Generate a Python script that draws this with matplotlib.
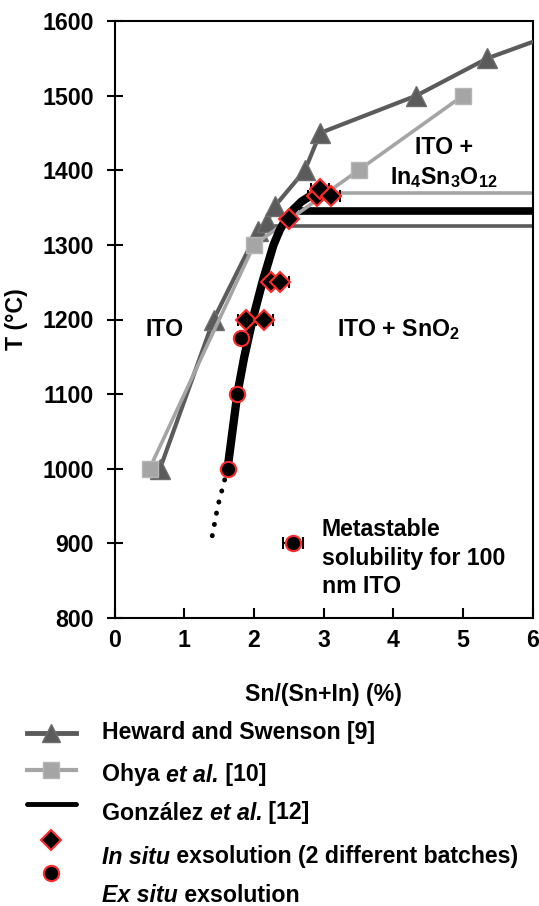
import matplotlib
matplotlib.use("Agg")
import matplotlib.pyplot as plt
from matplotlib.lines import Line2D

plt.rcParams['font.family'] = ['Liberation Sans', 'DejaVu Sans']
plt.rcParams['font.weight'] = 'bold'
plt.rcParams['mathtext.fontset'] = 'custom'
plt.rcParams['mathtext.rm'] = 'Liberation Sans:bold'
plt.rcParams['mathtext.it'] = 'Liberation Sans:bold:italic'
plt.rcParams['mathtext.bf'] = 'Liberation Sans:bold'

# ---- data ----
heward_x = [0.65, 1.42, 2.05, 2.18, 2.30, 2.73, 2.95, 4.33, 5.35, 6.0]
heward_T = [1000, 1200, 1318, 1330, 1352, 1400, 1450, 1500, 1550, 1572]
heward_eut_x = [2.08, 6.0]
heward_eut_T = [1325, 1325]

ohya_x = [0.5, 2.0, 3.5, 5.0]
ohya_T = [1000, 1300, 1400, 1500]
ohya_eut_x = [3.05, 6.0]
ohya_eut_T = [1370, 1370]

gonz_x = [2.65, 6.0]
gonz_T = [1345, 1345]

fit_x = [1.62, 1.69, 1.76, 1.86, 1.98, 2.12, 2.28, 2.37, 2.46, 2.56, 2.68, 2.85]
fit_T = [1000, 1050, 1100, 1150, 1200, 1250, 1300, 1320, 1335, 1347, 1358, 1368]
extrap_x = [1.62, 1.55, 1.48, 1.43, 1.38]
extrap_T = [1000, 975, 950, 925, 900]

insitu_x = [1.88, 2.15, 2.25, 2.37, 2.50, 2.90, 2.95, 3.10]
insitu_T = [1200, 1200, 1250, 1250, 1335, 1365, 1375, 1365]
insitu_err = [0.11, 0.12, 0.13, 0.13, 0.0, 0.13, 0.13, 0.13]

exsitu_x = [1.63, 1.75, 1.82]
exsitu_T = [1000, 1100, 1175]
exsitu_err = [0.05, 0.06, 0.0]

meta_x = [2.56]
meta_T = [900]
meta_err = [0.14]

xticks = [0, 1, 2, 3, 4, 5, 6]
yticks = [800, 900, 1000, 1100, 1200, 1300, 1400, 1500, 1600]

legend_labels = [
    [('Heward and Swenson [9]', 'normal')],
    [('Ohya ', 'normal'), ('et al.', 'italic'), (' [10]', 'normal')],
    [('González ', 'normal'), ('et al.', 'italic'), (' [12]', 'normal')],
    [('In situ', 'italic'), (' exsolution (2 different batches)', 'normal')],
    [('Ex situ', 'italic'), (' exsolution', 'normal')],
]

# ---- figure ----
W, H = 539, 906
fig = plt.figure(figsize=(W / 100, H / 100), dpi=100)
ax = fig.add_axes([114.7 / W, 1 - 618 / H, (532.7 - 114.7) / W, (618 - 21) / H])

dark = '#5b5b5b'
light = '#a5a5a5'
FS = 16.7

ax.plot(heward_x, heward_T, color=dark, lw=3, marker='^', ms=14,
        markevery=list(range(len(heward_x) - 1)), mfc=dark, mec='#6e6e6e', zorder=3)
ax.plot(heward_eut_x, heward_eut_T, color=dark, lw=2.6, zorder=2)
ax.plot(ohya_x, ohya_T, color=light, lw=2.6, marker='s', ms=11, mfc=light,
        mec='#b5b5b5', zorder=3)
ax.plot(ohya_eut_x, ohya_eut_T, color=light, lw=2.6, zorder=2)
ax.plot(gonz_x, gonz_T, color='black', lw=5.5, zorder=2, solid_capstyle='butt')
ax.plot(fit_x, fit_T, color='black', lw=6, zorder=4, solid_capstyle='round',
        solid_joinstyle='round')
ax.plot(extrap_x, extrap_T, color='black', lw=3.5, linestyle=(0, (0.05, 2.3)),
        dash_capstyle='round', zorder=4)

for xs, ts, es, mk, ms in [(insitu_x, insitu_T, insitu_err, 'D', 10.5),
                           (exsitu_x, exsitu_T, exsitu_err, 'o', 11),
                           (meta_x, meta_T, meta_err, 'o', 11)]:
    ax.errorbar(xs, ts, xerr=es, fmt=mk, ms=ms, mfc='black', mec='#ff2a2a',
                mew=1.5, ecolor='black', elinewidth=1.5, capsize=4,
                capthick=1.5, zorder=5)

ax.set_xlim(0, 6)
ax.set_ylim(800, 1600)
ax.set_xticks(xticks)
ax.set_yticks(yticks)
ax.tick_params(axis='y', direction='inout', length=12, width=1.5, labelsize=FS, pad=9)
ax.tick_params(axis='x', direction='in', length=7, width=1.5, labelsize=FS, pad=8)
for lab in ax.get_xticklabels() + ax.get_yticklabels():
    lab.set_fontweight('bold')
for s in ax.spines.values():
    s.set_linewidth(1.5)

ax.set_ylabel('T (°C)', fontsize=FS, fontweight='bold', labelpad=10)
ax.set_xlabel('Sn/(Sn+In) (%)', fontsize=FS, fontweight='bold', labelpad=22)

ax.text(0.72, 1186, 'ITO', fontsize=FS, fontweight='bold', ha='center', va='center')
ax.text(4.07, 1186, r'ITO + SnO$_2$', fontsize=FS, fontweight='bold', ha='center', va='center')
ax.text(4.72, 1410, 'ITO +\n' + r'In$_4$Sn$_3$O$_{12}$', fontsize=FS, fontweight='bold',
        ha='center', va='center', linespacing=1.3)
ax.text(2.97, 880, 'Metastable\nsolubility for 100\nnm ITO', fontsize=FS,
        fontweight='bold', ha='left', va='center', linespacing=1.3)

# ---- legend (manual, below the axes) ----
lax = fig.add_axes([0, 0, 1, 1])
lax.set_xlim(0, W)
lax.set_ylim(H, 0)
lax.axis('off')

lax.add_line(Line2D([27, 76], [733, 733], color=dark, lw=3.5))
lax.add_line(Line2D([51], [733], marker='^', ms=13, color=dark, mec='#6e6e6e'))
lax.add_line(Line2D([27, 76], [770, 770], color=light, lw=3))
lax.add_line(Line2D([51], [770], marker='s', ms=11, color=light, mec='#b5b5b5'))
lax.add_line(Line2D([27, 76], [804, 804], color='black', lw=3.5, solid_capstyle='round'))
lax.add_line(Line2D([51], [840], marker='D', ms=10, mfc='black', mec='#ff2a2a', mew=1.5))
lax.add_line(Line2D([51], [873], marker='o', ms=11, mfc='black', mec='#ff2a2a', mew=1.5))

row_y = [733, 775, 813, 857, 895]
for y, parts in zip(row_y, legend_labels):
    t = lax.text(102, y, parts[0][0], style=parts[0][1], fontsize=FS,
                 fontweight='bold', va='center')
    for s, st in parts[1:]:
        t = lax.annotate(s, xy=(1, 0), xycoords=t, ha='left', va='bottom',
                         style=st, fontsize=FS, fontweight='bold')

fig.savefig('out.png', dpi=100)
